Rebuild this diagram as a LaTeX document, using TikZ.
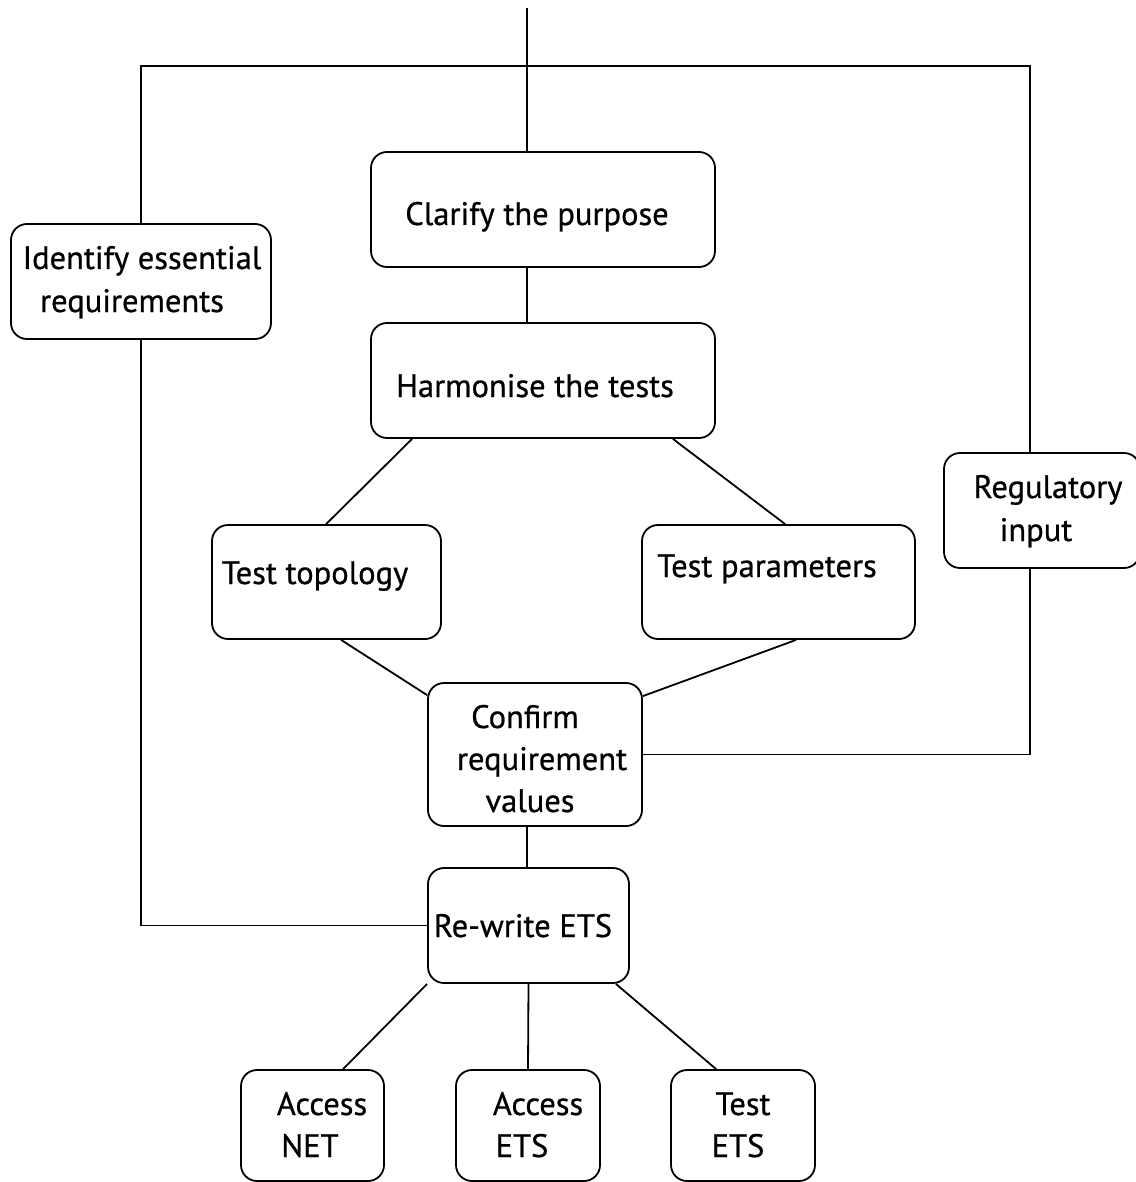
\documentclass[tikz,border=0pt]{standalone}
\usepackage{fontspec}
\setmainfont{PT Sans}
\begin{document}
\begin{tikzpicture}[x=1pt,y=-1pt,
  rbox/.style={draw, line width=1.8pt, rounded corners=16pt, inner sep=0pt, rectangle},
  lbl/.style={anchor=base, inner sep=0pt, font=\fontsize{32.5}{38}\selectfont\addfontfeature{FakeBold=0.7}},
  every path/.style={line width=1.8pt}]
\useasboundingbox (0,0) rectangle (1135,1182);
% boxes
\node[rbox, minimum width=344pt, minimum height=115pt] (clarify) at (543,209.5) {};
\node[rbox, minimum width=260pt, minimum height=115pt] (identify) at (141,281.5) {};
\node[rbox, minimum width=344pt, minimum height=115pt] (harmonise) at (543,380.5) {};
\node[rbox, minimum width=229pt, minimum height=114pt] (topology) at (326.5,582) {};
\node[rbox, minimum width=273pt, minimum height=114pt] (params) at (778.5,582) {};
\node[rbox, minimum width=196pt, minimum height=115pt] (regulatory) at (1042,510.5) {};
\node[rbox, minimum width=214pt, minimum height=143pt] (confirm) at (535,754.5) {};
\node[rbox, minimum width=201pt, minimum height=115pt] (rewrite) at (528.5,925.5) {};
\node[rbox, minimum width=143pt, minimum height=111pt] (accnet) at (312.5,1125.5) {};
\node[rbox, minimum width=144pt, minimum height=111pt] (accets) at (528,1125.5) {};
\node[rbox, minimum width=144pt, minimum height=111pt] (testets) at (743,1125.5) {};
% texts
\node[lbl] (t1) at (537,225) {Clarify the purpose};
\node[lbl] (t2a) at (142,269) {Identify essential};
\node[lbl] (t2b) at (132,312) {requirements};
\node[lbl] (t3) at (535,397) {Harmonise the tests};
\node[lbl] (t4) at (315,584) {Test topology};
\node[lbl] (t5) at (767,577) {Test parameters};
\node[lbl] (t6a) at (1048,498) {Regulatory};
\node[lbl] (t6b) at (1036,541) {input};
\node[lbl] (t7a) at (525,728) {Confirm};
\node[lbl] (t7b) at (542,770) {requirement};
\node[lbl] (t7c) at (530,812) {values};
\node[lbl] (t8) at (523,937) {Re-write ETS};
\node[lbl] (t9a) at (322,1115) {Access};
\node[lbl] (t9b) at (310,1157) {NET};
\node[lbl] (t10a) at (538,1115) {Access};
\node[lbl] (t10b) at (522,1157) {ETS};
\node[lbl] (t11a) at (743,1115) {Test};
\node[lbl] (t11b) at (738,1157) {ETS};
% coordinates
\coordinate (topin) at (527,8);
\coordinate (tl) at (141,66);
\coordinate (tr) at (1030,66);
% connectors
\draw (topin) -- (topin |- clarify.north);
\draw (topin |- clarify.south) -- (topin |- harmonise.north);
\draw (identify.north) -- (tl) -- (tr) -- (tr |- regulatory.north);
\draw (identify.south) -- (identify.south |- rewrite.west) -- (rewrite.west);
\draw (tr |- regulatory.south) -- (tr |- confirm.east) -- (confirm.east);
\draw (topin |- confirm.south) -- (topin |- rewrite.north);
\draw (rewrite.south) -- (accets.north);
\draw (rewrite.south west) -- ([xshift=103pt]accnet.north west);
\draw ([xshift=-14pt]rewrite.south east) -- ([xshift=46pt]testets.north west);
\draw ([xshift=42pt]harmonise.south west) -- ([xshift=115pt]topology.north west);
\draw ([xshift=-43pt]harmonise.south east) -- ([xshift=144pt]params.north west);
\draw ([xshift=130pt]topology.south west) -- ([yshift=-13pt]confirm.north west);
\draw ([xshift=155pt]params.south west) -- ([yshift=-14pt]confirm.north east);
\end{tikzpicture}
\end{document}
